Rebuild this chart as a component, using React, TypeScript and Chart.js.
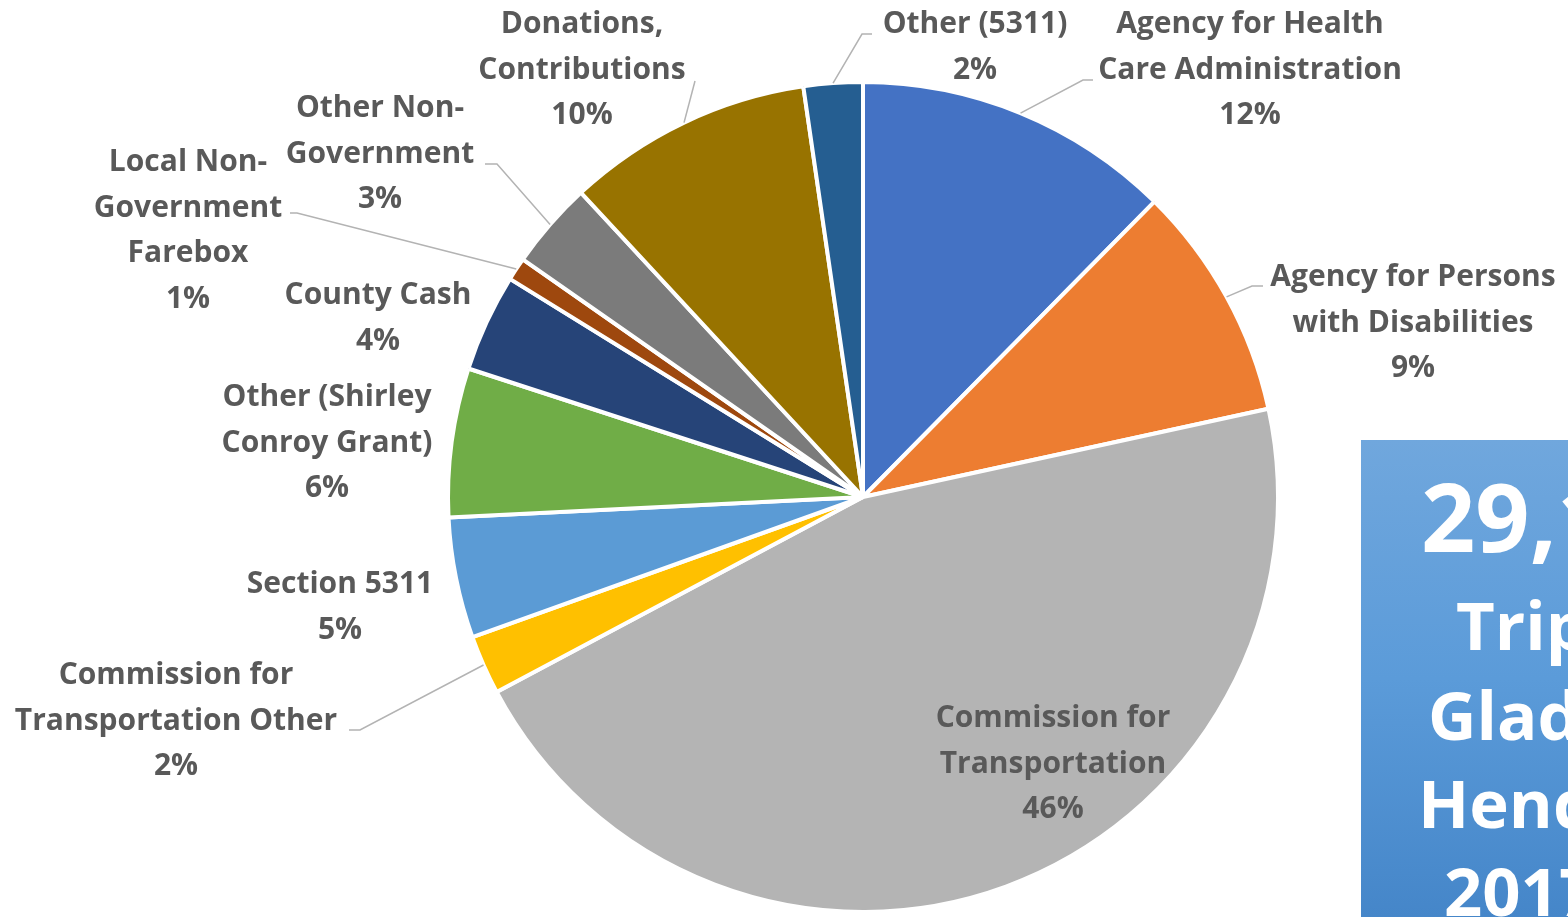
import React, { useEffect, useRef } from "react";
import { Chart, registerables } from "chart.js";

Chart.register(...registerables);

// ---- Data ----
const categories = [
  "Agency for Health Care Administration",
  "Agency for Persons with Disabilities",
  "Commission for Transportation",
  "Commission for Transportation Other",
  "Section 5311",
  "Other (Shirley Conroy Grant)",
  "County Cash",
  "Local Non-Government Farebox",
  "Other Non-Government",
  "Donations, Contributions",
  "Other (5311)",
];
const shares = [12.4, 9.2, 45.65, 2.3, 4.7, 5.8, 3.8, 0.9, 3.4, 9.6, 2.3];
const labelLines = [
  ["Agency for Health", "Care Administration"],
  ["Agency for Persons", "with Disabilities"],
  ["Commission for", "Transportation"],
  ["Commission for", "Transportation Other"],
  ["Section 5311"],
  ["Other (Shirley", "Conroy Grant)"],
  ["County Cash"],
  ["Local Non-", "Government", "Farebox"],
  ["Other Non-", "Government"],
  ["Donations,", "Contributions"],
  ["Other (5311)"],
];
const boxLines = ["29,1", "Trips", "Glades", "Hendry", "2017"];

// ---- Style ----
const colors = [
  "#4472C4", "#ED7D31", "#B4B4B4", "#FFC000", "#5B9BD5", "#70AD47",
  "#264478", "#9E480E", "#7B7B7B", "#987300", "#255E91",
];
type LabelPos = { cx: number; y: number; elbow?: [number, number]; end?: [number, number] };
const labelPos: LabelPos[] = [
  { cx: 1250, y: 33, elbow: [1083, 80], end: [1093, 80] },
  { cx: 1413, y: 286, elbow: [1252, 286], end: [1263, 286] },
  { cx: 1053, y: 727 },
  { cx: 176, y: 684, elbow: [360, 730], end: [349, 730] },
  { cx: 340, y: 593 },
  { cx: 327, y: 406 },
  { cx: 378, y: 304 },
  { cx: 188, y: 171, elbow: [297, 213], end: [290, 213] },
  { cx: 380, y: 117, elbow: [497, 164], end: [485, 164] },
  { cx: 582, y: 33, elbow: [695, 81] },
  { cx: 975, y: 33, elbow: [862, 34], end: [872, 34] },
];
const boxStyle = [
  { x: 1421, y: 552, size: 95 },
  { x: 1456, y: 650, size: 67 },
  { x: 1428, y: 740, size: 67 },
  { x: 1418, y: 828, size: 67 },
  { x: 1444, y: 916, size: 67 },
];
const LINE_H = 45.5;
const FONT = "'Open Sans'";
const BOX_FONT = "'Open Sans'";

const labelPlugin = {
  id: "pieLabels",
  afterDraw(chart: any) {
    const ctx = chart.ctx as CanvasRenderingContext2D;
    const meta = chart.getDatasetMeta(0);
    const total = shares.reduce((a, b) => a + b, 0);

    // side box
    ctx.save();
    const bx = 1361, by = 440;
    const g = ctx.createLinearGradient(0, by, 0, 917);
    g.addColorStop(0, "#70A7DD");
    g.addColorStop(0.5, "#5B9BD9");
    g.addColorStop(1, "#4586C9");
    ctx.fillStyle = g;
    ctx.fillRect(bx, by, 1568 - bx, 917 - by);
    ctx.fillStyle = "#FFFFFF";
    ctx.textAlign = "left";
    ctx.textBaseline = "alphabetic";
    boxLines.forEach((t, i) => {
      const s = boxStyle[i];
      ctx.font = `bold ${s.size}px ${BOX_FONT}`;
      ctx.fillText(t, s.x, s.y);
    });
    ctx.restore();

    // labels + leader lines
    ctx.save();
    meta.data.forEach((arc: any, i: number) => {
      const p = labelPos[i];
      if (p.elbow) {
        const mid = (arc.startAngle + arc.endAngle) / 2;
        const sx = arc.x + Math.cos(mid) * arc.outerRadius;
        const sy = arc.y + Math.sin(mid) * arc.outerRadius;
        ctx.strokeStyle = "#B3B3B3";
        ctx.lineWidth = 1.5;
        ctx.beginPath();
        ctx.moveTo(sx, sy);
        ctx.lineTo(p.elbow[0], p.elbow[1]);
        if (p.end) ctx.lineTo(p.end[0], p.end[1]);
        ctx.stroke();
      }
      const pct = Math.round((shares[i] / total) * 100) + "%";
      const lines = [...labelLines[i], pct];
      ctx.fillStyle = "#595959";
      ctx.font = `bold 30px ${FONT}`;
      ctx.textAlign = "center";
      ctx.textBaseline = "alphabetic";
      lines.forEach((t, k) => ctx.fillText(t, p.cx, p.y + k * LINE_H));
    });
    ctx.restore();
  },
};

export default function App() {
  const ref = useRef<HTMLCanvasElement | null>(null);
  useEffect(() => {
    document.body.style.margin = "0";
    if (!ref.current) return;
    const chart = new Chart(ref.current, {
      type: "pie",
      data: {
        labels: categories,
        datasets: [
          {
            data: shares,
            backgroundColor: colors,
            borderColor: "#FFFFFF",
            borderWidth: 4,
            clip: false,
          } as any,
        ],
      },
      options: {
        responsive: false,
        animation: false,
        radius: 415,
        layout: { padding: { left: 158, top: 77, right: 0, bottom: 0 } },
        plugins: { legend: { display: false }, tooltip: { enabled: false } },
      } as any,
      plugins: [labelPlugin],
    });
    return () => chart.destroy();
  }, []);
  return (
    <div style={{ position: "fixed", left: 0, top: 0, width: 1568, height: 917, background: "#fff" }}>
      <canvas ref={ref} width={1568} height={917} style={{ display: "block" }} />
    </div>
  );
}
